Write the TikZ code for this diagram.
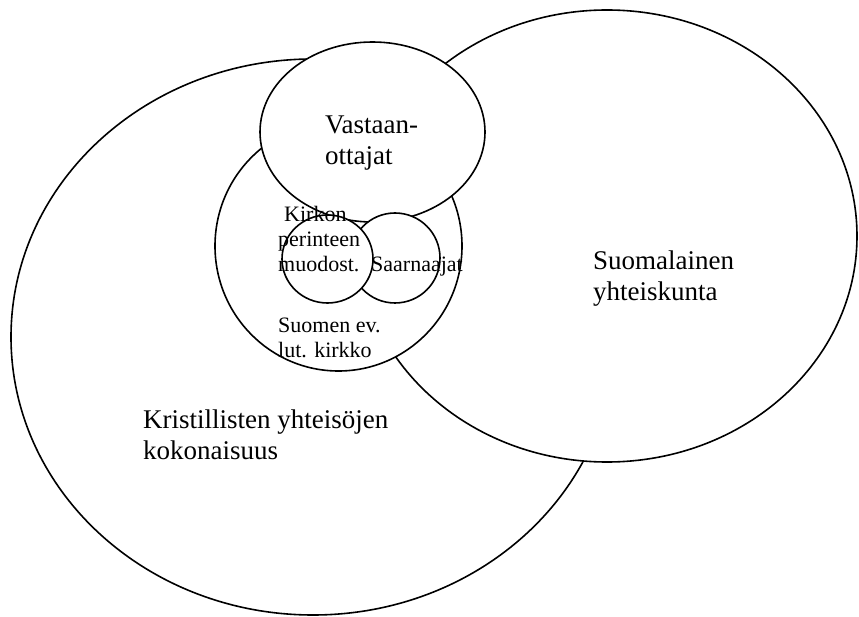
\documentclass[tikz,border=0pt]{standalone}
\usepackage{fontspec}
\setmainfont{Liberation Serif}
\tikzset{
  region/.style={draw,fill=white,line width=1.6pt},
  biglabel/.style={anchor=base west,inner sep=0pt,align=left,font=\fontsize{27}{31}\selectfont},
  smalllabel/.style={anchor=base west,inner sep=0pt,align=left,font=\fontsize{22}{25}\selectfont}
}
\begin{document}
\begin{tikzpicture}[x=1pt,y=-1pt]
\useasboundingbox (0,0) rectangle (859,617);

% sets, back to front
\draw[region] (313,337) ellipse [x radius=302,y radius=278];
\draw[region] (607,236) ellipse [x radius=250,y radius=226];
\draw[region] (338.5,246) ellipse [x radius=123.5,y radius=125];
\draw[region] (372.5,132) ellipse [x radius=112.5,y radius=90];
\draw[region] (395,258) circle [radius=45];
\draw[region] (327.5,259) ellipse [x radius=45.5,y radius=44];

% labels (anchored at the baseline of the last line)
\node[biglabel] (vast) at (325,165) {Vastaan-\\ottajat};
\node[biglabel] (suomi) at (593,301) {Suomalainen\\yhteiskunta};
\node[biglabel] (krist) at (143,459) {Kristillisten yhteisöjen\\kokonaisuus};
\node[smalllabel] (kirkko) at (278,358) {Suomen ev.\\lut. kirkko};
\node[smalllabel] (perinne) at (278,272) {\hspace*{6pt}Kirkon\\perinteen\\muodost.};
\node[smalllabel] (saarn) at (371,272) {Saarnaajat};

\end{tikzpicture}
\end{document}
